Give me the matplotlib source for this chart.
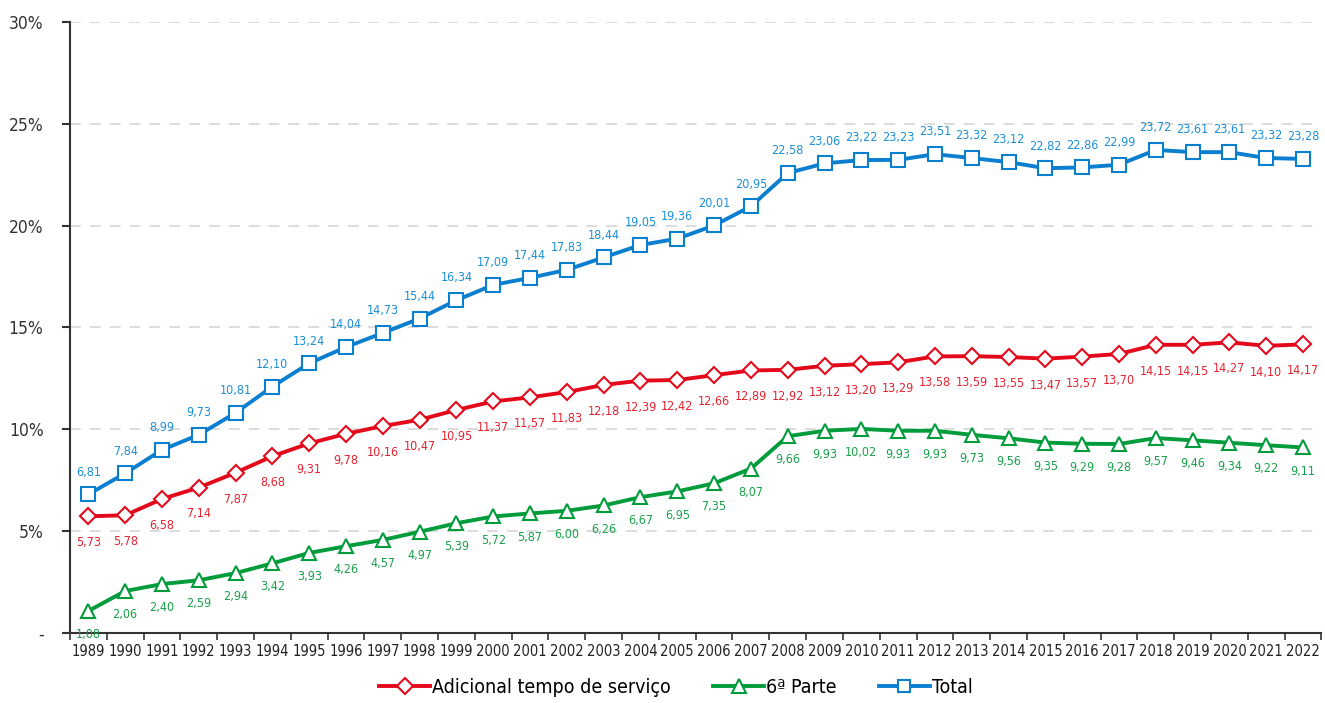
import numpy as np
import matplotlib
matplotlib.use("Agg")
import matplotlib.pyplot as plt
from matplotlib.lines import Line2D

plt.rcParams['font.family'] = ['DejaVu Sans']
plt.rcParams['font.stretch'] = 'condensed'

years = list(range(1989, 2023))

adicional = [5.73, 5.78, 6.58, 7.14, 7.87, 8.68, 9.31, 9.78, 10.16, 10.47,
             10.95, 11.37, 11.57, 11.83, 12.18, 12.39, 12.42, 12.66, 12.89, 12.92,
             13.12, 13.20, 13.29, 13.58, 13.59, 13.55, 13.47, 13.57, 13.70, 14.15,
             14.15, 14.27, 14.10, 14.17]

sexta_parte = [1.08, 2.06, 2.40, 2.59, 2.94, 3.42, 3.93, 4.26, 4.57, 4.97,
               5.39, 5.72, 5.87, 6.00, 6.26, 6.67, 6.95, 7.35, 8.07, 9.66,
               9.93, 10.02, 9.93, 9.93, 9.73, 9.56, 9.35, 9.29, 9.28, 9.57,
               9.46, 9.34, 9.22, 9.11]

total = [6.81, 7.84, 8.99, 9.73, 10.81, 12.10, 13.24, 14.04, 14.73, 15.44,
         16.34, 17.09, 17.44, 17.83, 18.44, 19.05, 19.36, 20.01, 20.95, 22.58,
         23.06, 23.22, 23.23, 23.51, 23.32, 23.12, 22.82, 22.86, 22.99, 23.72,
         23.61, 23.61, 23.32, 23.28]

y_ticks = [0, 5, 10, 15, 20, 25, 30]
y_labels = ['-', '5%', '10%', '15%', '20%', '25%', '30%']

red, red_txt = '#e3091b', '#e52330'
green, green_txt = '#009b3a', '#19a04a'
blue, blue_txt = '#0a7fcf', '#1b8fd6'

fig = plt.figure(figsize=(13.25, 7.03), dpi=100)
ax = fig.add_axes([0.0528, 0.0996, 0.9445, 0.8691])

x = np.arange(len(years))

series = [
    (adicional, red, red_txt, 'D', 8.5, -19, 'Adicional tempo de serviço'),
    (sexta_parte, green, green_txt, '^', 10.5, -17, '6ª Parte'),
    (total, blue, blue_txt, 's', 9.5, 16, 'Total'),
]

for vals, col, tcol, mk, ms, off, name in series:
    ax.plot(x, vals, color=col, lw=2.8, marker=mk, ms=ms,
            mfc='white', mec=col, mew=1.5, zorder=3)
    for xi, v in zip(x, vals):
        ax.annotate(f"{v:.2f}".replace('.', ','), (xi, v),
                    xytext=(0, off), textcoords='offset points',
                    ha='center', va='center', fontsize=9, color=tcol)

ax.set_xlim(-0.5, len(years) - 0.5)
ax.set_ylim(0, 30)

ax.set_yticks(y_ticks)
ax.set_yticklabels(y_labels, fontsize=12.5, color='#333333')
ax.tick_params(axis='y', length=6, width=1.5, pad=13, color='#333333')

ax.set_xticks(x)
ax.set_xticklabels([str(y) for y in years], fontsize=10.5, color='#222222')
ax.set_xticks(np.arange(-0.5, len(years)), minor=True)
ax.tick_params(axis='x', which='major', length=0, pad=8)
ax.tick_params(axis='x', which='minor', length=5, width=1.2, color='#333333')

for yv in y_ticks[1:]:
    ax.axhline(yv, color='#d9d9d9', lw=1.3, ls=(0, (6, 5)), zorder=1)

for s in ['top', 'right']:
    ax.spines[s].set_visible(False)
for s in ['left', 'bottom']:
    ax.spines[s].set_linewidth(1.5)
    ax.spines[s].set_color('#333333')

handles = [Line2D([0], [0], color=c, lw=2.8, marker=m, ms=ms * 0.95,
                  mfc='white', mec=c, mew=1.5)
           for _, c, _, m, ms, _, _ in series]
fig.legend(handles, [s[6] for s in series], loc='center',
           bbox_to_anchor=(0.51, 0.022), ncol=3, frameon=False,
           fontsize=14, handlelength=2.6, handletextpad=0.1, columnspacing=2.2)

fig.savefig('out.png', dpi=100)
